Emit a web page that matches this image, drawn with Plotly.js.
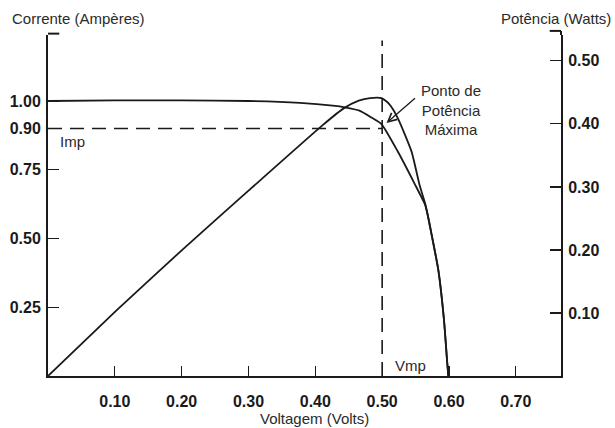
<!DOCTYPE html>
<html>
<head>
<meta charset="utf-8">
<script src="https://cdn.plot.ly/plotly-3.0.1.min.js"></script>
<style>
html,body{margin:0;padding:0;background:#fff;}
#chart{width:615px;height:428px;}
</style>
</head>
<body>
<div id="chart"></div>
<script>
// Current (I-V) curve
const voltageI = [0, 0.10, 0.20, 0.30, 0.377, 0.426, 0.444, 0.466, 0.484, 0.499, 0.523, 0.549, 0.564, 0.568, 0.574, 0.584, 0.5925, 0.597, 0.599];
const currentA = [1.0, 1.002, 1.002, 1.0, 0.993, 0.983, 0.977, 0.965, 0.94, 0.916, 0.818, 0.697, 0.624, 0.588, 0.515, 0.387, 0.204, 0.06, 0];
// Power (P-V) curve
const voltageP = [0, 0.1025, 0.2017, 0.30, 0.411, 0.443, 0.465, 0.482, 0.499, 0.510, 0.523, 0.544, 0.556, 0.565, 0.568, 0.574, 0.584, 0.5925, 0.597, 0.599];
const powerW = [0, 0.104, 0.201, 0.294, 0.398, 0.425, 0.437, 0.441, 0.441, 0.432, 0.41, 0.356, 0.303, 0.271, 0.256, 0.224, 0.168, 0.089, 0.026, 0];
// Maximum power point
const Vmp = 0.50;
const Imp = 0.90;
// Tick labels
const xTicks = [0.1, 0.2, 0.3, 0.4, 0.5, 0.6, 0.7];
const xTickText = ['0.10', '0.20', '0.30', '0.40', '0.50', '0.60', '0.70'];
const iTicks = [0.25, 0.5, 0.75, 0.9, 1.0];
const iTickText = ['0.25', '0.50', '0.75', '0.90', '1.00'];
const pTicks = [0.1, 0.2, 0.3, 0.4, 0.5];
const pTickText = ['0.10', '0.20', '0.30', '0.40', '0.50'];

const ink = '#1a1a1a';
const tickFont = {family: 'Liberation Sans, Arial, sans-serif', size: 16, color: ink, weight: 'bold'};
const txtFont = {family: 'Liberation Sans, Arial, sans-serif', size: 15, color: '#2a2a2a'};

const traces = [
  {x: voltageI, y: currentA, mode: 'lines', yaxis: 'y', line: {color: ink, width: 1.8, shape: 'spline', smoothing: 0.5}, hoverinfo: 'skip', showlegend: false},
  {x: voltageP, y: powerW, mode: 'lines', yaxis: 'y2', line: {color: ink, width: 1.8, shape: 'spline', smoothing: 0.5}, hoverinfo: 'skip', showlegend: false}
];

const layout = {
  width: 615, height: 428,
  margin: {l: 48, r: 54, t: 35, b: 52},
  paper_bgcolor: '#fff', plot_bgcolor: '#fff',
  showlegend: false,
  xaxis: {
    range: [0, 0.7676], showgrid: false, zeroline: false,
    showline: true, linecolor: ink, linewidth: 2,
    ticks: 'inside', ticklen: 10, tickwidth: 1.2, tickcolor: ink,
    tickvals: xTicks, ticktext: xTickText, tickfont: tickFont,
    ticklabelstandoff: 10
  },
  yaxis: {
    range: [0, 1.24], showgrid: false, zeroline: false,
    showline: true, linecolor: ink, linewidth: 2,
    ticks: 'inside', ticklen: 11, tickwidth: 1.2, tickcolor: ink,
    tickvals: iTicks, ticktext: iTickText, tickfont: tickFont,
    ticklabelstandoff: 2
  },
  yaxis2: {
    overlaying: 'y', side: 'right',
    range: [0, 0.541], showgrid: false, zeroline: false,
    showline: true, linecolor: ink, linewidth: 2,
    ticks: 'inside', ticklen: 11, tickwidth: 1.2, tickcolor: ink,
    tickvals: pTicks, ticktext: pTickText, tickfont: tickFont,
    ticklabelstandoff: 2
  },
  shapes: [
    {type: 'line', xref: 'x', yref: 'y', x0: 0, x1: Vmp, y0: Imp, y1: Imp, line: {color: ink, width: 1.6, dash: '14px,8px'}},
    {type: 'line', xref: 'x', yref: 'y', x0: Vmp, x1: Vmp, y0: 0, y1: 1.22, line: {color: ink, width: 1.6, dash: '14px,8px'}},
    {type: 'line', xref: 'paper', yref: 'paper', x0: 0, x1: 0.022, y0: 1.004, y1: 1.004, line: {color: ink, width: 2}},
    {type: 'line', xref: 'paper', yref: 'paper', x0: 0.978, x1: 1, y0: 1.012, y1: 1.012, line: {color: ink, width: 2}},
    {type: 'line', xref: 'paper', yref: 'paper', x0: 1, x1: 1, y0: 1, y1: 1.012, line: {color: ink, width: 2}}
  ],
  annotations: [
    {text: 'Corrente (Ampères)', xref: 'paper', yref: 'paper', x: -0.074, y: 1.047, xanchor: 'left', yanchor: 'middle', showarrow: false, font: txtFont},
    {text: 'Potência (Watts)', xref: 'paper', yref: 'paper', x: 1.101, y: 1.047, xanchor: 'right', yanchor: 'middle', showarrow: false, font: txtFont},
    {text: 'Voltagem (Volts)', xref: 'paper', yref: 'paper', x: 0.52, y: -0.125, xanchor: 'center', yanchor: 'middle', showarrow: false, font: txtFont},
    {text: 'Imp', xref: 'x', yref: 'y', x: 0.036, y: 0.854, xanchor: 'center', yanchor: 'middle', showarrow: false, font: txtFont},
    {text: 'Vmp', xref: 'x', yref: 'y', x: 0.543, y: 0.04, xanchor: 'center', yanchor: 'middle', showarrow: false, font: txtFont},
    {text: 'Ponto de<br>Potência<br>Máxima', xref: 'x', yref: 'y', x: 0.603, y: 0.967, xanchor: 'center', yanchor: 'middle', showarrow: false, font: txtFont},
    {text: '', xref: 'x', yref: 'y', x: 0.5065, y: 0.92, axref: 'x', ayref: 'y', ax: 0.5514, ay: 1.0145, showarrow: true, arrowhead: 5, arrowsize: 1.3, arrowwidth: 1.3, arrowcolor: ink}
  ]
};

Plotly.newPlot('chart', traces, layout, {staticPlot: true, displayModeBar: false});
</script>
</body>
</html>
